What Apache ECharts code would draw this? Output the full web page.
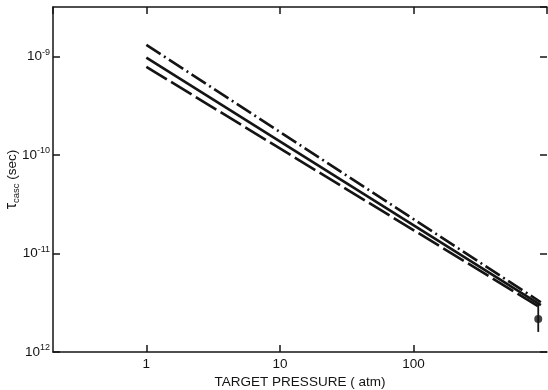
<!DOCTYPE html>
<html>
<head>
<meta charset="utf-8">
<script src="https://cdn.jsdelivr.net/npm/echarts@6/dist/echarts.min.js"></script>
<style>
  html, body { margin: 0; padding: 0; background: #fff; }
  #chart { width: 548px; height: 390px; }
</style>
</head>
<body>
<div id="chart"></div>
<script>
// Cascade time vs. target pressure (log-log)
const pressure = [1, 900];                       // atm, line end points
const tauDashDot = [1.32e-9, 3.2e-12];           // sec
const tauSolid   = [9.8e-10, 3.0e-12];
const tauDashed  = [7.9e-10, 2.8e-12];

// measured point with its error bar
const measP = [860];
const measTau = [2.17e-12];
const measTauLow = [1.6e-12];
const measTauHigh = [3.16e-12];

const xRange = [0.2, 1000];
const yRange = [1e-12, 3.2e-9];
// superscript text of the y tick labels, keyed by decade exponent
const yTickExp = { '-12': '12', '-11': '-11', '-10': '-10', '-9': '-9' };

const FONT = '"Liberation Sans", Arial, sans-serif';
const INK = '#141414';

function pairs(xs, ys) { return xs.map((x, i) => [x, ys[i]]); }

function isDecade(v) {
  const e = Math.log10(v);
  return Math.abs(e - Math.round(e)) < 1e-6;
}

const axisCommonX = {
  type: 'log', logBase: 10, min: xRange[0], max: xRange[1],
  axisLine: { show: true, lineStyle: { color: INK, width: 1.5 } },
  axisTick: { show: true, inside: true, length: 7, lineStyle: { color: INK, width: 1.5 } },
  minorTick: { show: false }, splitLine: { show: false }
};
const axisCommonY = {
  type: 'log', logBase: 10, min: yRange[0], max: yRange[1],
  axisLine: { show: true, lineStyle: { color: INK, width: 1.5 } },
  axisTick: { show: true, inside: true, length: 7, lineStyle: { color: INK, width: 1.5 } },
  minorTick: { show: false }, splitLine: { show: false }
};

const chart = echarts.init(document.getElementById('chart'), null, { renderer: 'canvas' });
chart.setOption({
  backgroundColor: '#ffffff',
  animation: false,
  grid: { left: 53, right: 1, top: 7, bottom: 38, containLabel: false, outerBoundsMode: 'none' },
  xAxis: [
    Object.assign({}, axisCommonX, {
      position: 'bottom',
      name: 'TARGET PRESSURE ( atm)',
      nameLocation: 'middle', nameGap: 23, nameMoveOverlap: false,
      nameTextStyle: { fontFamily: FONT, fontSize: 13.5, color: INK },
      axisLabel: {
        show: true, margin: 5, showMinLabel: false, showMaxLabel: false,
        fontFamily: FONT, fontSize: 13.5, color: INK,
        formatter: v => (isDecade(v) && v < 1000 ? String(Math.round(v)) : '')
      }
    }),
    Object.assign({}, axisCommonX, {
      position: 'top',
      axisLabel: { show: false }
    })
  ],
  yAxis: [
    Object.assign({}, axisCommonY, {
      position: 'left',
      name: '{t|τ}{s|casc}{n| (sec)}',
      nameLocation: 'middle', nameGap: 32, nameRotate: 90, nameMoveOverlap: false,
      nameTextStyle: {
        fontFamily: FONT, color: INK,
        rich: {
          t: { fontFamily: FONT, fontSize: 16, color: INK, lineHeight: 18 },
          s: { fontFamily: FONT, fontSize: 9.5, color: INK, lineHeight: 11, verticalAlign: 'bottom' },
          n: { fontFamily: FONT, fontSize: 13.5, color: INK, lineHeight: 18 }
        }
      },
      axisLabel: {
        show: true, margin: 3, showMinLabel: true, showMaxLabel: false,
        fontFamily: FONT, color: INK,
        formatter: v => {
          if (!isDecade(v)) return '';
          const e = String(Math.round(Math.log10(v)));
          return '{b|10}{s|' + (yTickExp[e] || e) + '}';
        },
        rich: {
          b: { fontFamily: FONT, fontSize: 13.5, color: INK, lineHeight: 18 },
          s: { fontFamily: FONT, fontSize: 9, color: INK, lineHeight: 10, verticalAlign: 'top' }
        }
      }
    }),
    Object.assign({}, axisCommonY, {
      position: 'right',
      axisLine: { show: false },
      axisLabel: { show: false }
    })
  ],
  series: [
    {
      name: 'dash-dot', type: 'line', xAxisIndex: 0, yAxisIndex: 0,
      data: pairs(pressure, tauDashDot), showSymbol: false,
      lineStyle: { color: INK, width: 2.6, type: [17, 4, 2, 4], cap: 'butt' }
    },
    {
      name: 'solid', type: 'line', xAxisIndex: 0, yAxisIndex: 0,
      data: pairs(pressure, tauSolid), showSymbol: false,
      lineStyle: { color: INK, width: 2.6, type: 'solid' }
    },
    {
      name: 'dashed', type: 'line', xAxisIndex: 0, yAxisIndex: 0,
      data: pairs(pressure, tauDashed), showSymbol: false,
      lineStyle: { color: INK, width: 2.6, type: [24, 5], cap: 'butt' }
    },
    {
      name: 'error bar', type: 'custom', xAxisIndex: 0, yAxisIndex: 0,
      data: measP.map((p, i) => [p, measTauLow[i], measTauHigh[i]]),
      renderItem: (params, api) => {
        const lo = api.coord([api.value(0), api.value(1)]);
        const hi = api.coord([api.value(0), api.value(2)]);
        return {
          type: 'line',
          shape: { x1: lo[0], y1: lo[1], x2: hi[0], y2: hi[1] },
          style: { stroke: INK, lineWidth: 1.8 }
        };
      }
    },
    {
      name: 'measured', type: 'scatter', xAxisIndex: 0, yAxisIndex: 0,
      data: pairs(measP, measTau), symbol: 'circle', symbolSize: 8,
      itemStyle: { color: INK }
    }
  ]
});
</script>
</body>
</html>
